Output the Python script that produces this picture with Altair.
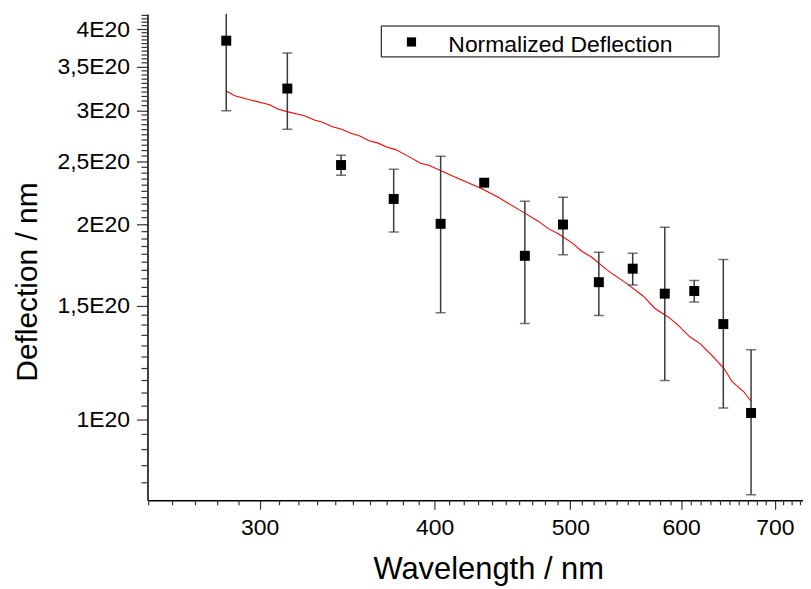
import altair as alt
import pandas as pd

FONT = "Liberation Sans"

# measured points
wavelength = [284, 314, 343, 374, 404, 434, 464, 494, 524, 554, 584, 613, 643, 673]
deflection = [3.84e20, 3.24e20, 2.47e20, 2.19e20, 2.005e20, 2.32e20, 1.79e20, 2.00e20,
              1.63e20, 1.71e20, 1.565e20, 1.58e20, 1.405e20, 1.025e20]
error = [0.845e20, 0.435e20, 0.087e20, 0.243e20, 0.543e20, 0.0, 0.382e20, 0.204e20,
         0.182e20, 0.096e20, 0.415e20, 0.06e20, 0.362e20, 0.258e20]

# red fit curve
fit_wavelength = [283.8, 288.0, 295.1, 305.0, 309.1, 313.4, 322.9, 328.3, 332.7, 338.2,
                  342.9, 348.6, 353.4, 359.2, 364.1, 370.1, 375.2, 383.5, 390.9, 396.2,
                  403.9, 413.9, 432.4, 444.4, 460.4, 474.4, 482.2, 490.2, 502.3, 509.2,
                  517.6, 531.6, 548.7, 563.8, 574.6, 587.3, 596.9, 608.5, 618.6, 630.5,
                  643.6, 652.4, 665.0, 672.8]
fit_deflection = [3.215e20, 3.158e20, 3.114e20, 3.059e20, 3.013e20, 2.988e20, 2.943e20, 2.898e20,
                  2.874e20, 2.830e20, 2.807e20, 2.764e20, 2.741e20, 2.693e20, 2.672e20, 2.630e20,
                  2.609e20, 2.545e20, 2.486e20, 2.468e20, 2.422e20, 2.365e20, 2.270e20, 2.201e20,
                  2.103e20, 2.024e20, 1.971e20, 1.936e20, 1.869e20, 1.821e20, 1.782e20, 1.700e20,
                  1.622e20, 1.551e20, 1.485e20, 1.441e20, 1.400e20, 1.343e20, 1.312e20, 1.259e20,
                  1.201e20, 1.145e20, 1.105e20, 1.0695e20]

x_ticks = [300, 400, 500, 600, 700]
y_ticks = [1e20, 1.5e20, 2e20, 2.5e20, 3e20, 3.5e20, 4e20]
x_minor = [v for v in range(250, 740, 10) if v % 100 != 0]
y_minor = [k * 5e18 for k in range(16, 85) if k % 10 != 0]

legend_label = ["Normalized Deflection"]

W, H = 658, 488

pts = pd.DataFrame({"wl": wavelength, "val": deflection, "err": error})
pts["lo"] = pts["val"] - pts["err"]
pts["hi"] = pts["val"] + pts["err"]
bars = pts[pts["err"] > 0]
caps = pd.DataFrame({"wl": list(bars["wl"]) * 2,
                     "val": list(bars["lo"]) + list(bars["hi"])})
fit = pd.DataFrame({"wl": fit_wavelength, "val": fit_deflection})
xm = pd.DataFrame({"wl": x_minor})
ym = pd.DataFrame({"val": y_minor})
leg = pd.DataFrame({"label": legend_label})

xs = alt.Scale(type="log", domain=[249.5, 733], nice=False, zero=False)
ys = alt.Scale(type="log", domain=[0.752e20, 4.22e20], nice=False, zero=False)

x_axis = alt.Axis(values=x_ticks, format="d", title="Wavelength / nm",
                  tickSize=9, labelPadding=7, labelFontSize=23,
                  titleFontSize=31, titleX=342, titleY=79, titleAlign="center",
                  titleBaseline="alphabetic", grid=False)
y_axis = alt.Axis(values=y_ticks, title="Deflection / nm",
                  labelExpr="replace(format(datum.value/1e20, '~g'), '.', ',') + 'E20'",
                  tickSize=11, labelPadding=7, labelFontSize=23,
                  titleFontSize=30, titleAngle=270, titleX=-111, titleY=268.5,
                  titleAlign="center", titleBaseline="alphabetic", grid=False)

X = alt.X("wl:Q", scale=xs, axis=x_axis)
Y = alt.Y("val:Q", scale=ys, axis=y_axis)

line = alt.Chart(fit).mark_line(color="#ff0000", strokeWidth=1.1, clip=True).encode(x=X, y=Y)

err_rule = alt.Chart(bars).mark_rule(color="#3a3a3a", strokeWidth=1.5, clip=True).encode(
    x=X, y=alt.Y("lo:Q", scale=ys, axis=y_axis), y2="hi:Q")

err_caps = alt.Chart(caps).mark_tick(color="#3a3a3a", orient="horizontal", size=10,
                                     thickness=1.5, clip=True).encode(x=X, y=Y)

points = alt.Chart(pts).mark_point(shape="square", filled=True, color="black",
                                   size=100, opacity=1).encode(x=X, y=Y)

x_minor_ticks = alt.Chart(xm).mark_rule(color="#333", strokeWidth=1.2).encode(
    x=X, y=alt.value(H), y2=alt.value(H + 5))
y_minor_ticks = alt.Chart(ym).mark_rule(color="#333", strokeWidth=1.2).encode(
    y=Y, x=alt.value(0), x2=alt.value(-6))

leg_box = alt.Chart(leg).mark_rect(fill="white", stroke="black", strokeWidth=1).encode(
    x=alt.value(234.7), x2=alt.value(573.7), y=alt.value(12), y2=alt.value(43))
leg_sym = alt.Chart(leg).mark_point(shape="square", filled=True, color="black",
                                    size=85, opacity=1).encode(
    x=alt.value(265), y=alt.value(28))
leg_txt = alt.Chart(leg).mark_text(align="left", baseline="alphabetic", fontSize=23,
                                   font=FONT, color="black").encode(
    x=alt.value(302), y=alt.value(38.5), text="label:N")

chart = alt.layer(
    x_minor_ticks, y_minor_ticks, line, err_rule, err_caps, points,
    leg_box, leg_sym, leg_txt
).properties(
    width=W, height=H,
    autosize=alt.AutoSizeParams(type="none"),
    padding={"left": 140, "top": 5, "right": 0, "bottom": 88},
).configure(
    font=FONT,
).configure_view(
    stroke=None
).configure_axis(
    domainColor="black", domainWidth=1.5, tickColor="#333", tickWidth=1.2,
    labelColor="black", titleColor="black", labelFont=FONT, titleFont=FONT,
    titleFontWeight="normal"
)

chart.save("out.html", embed_options={"renderer": "svg", "actions": False})
